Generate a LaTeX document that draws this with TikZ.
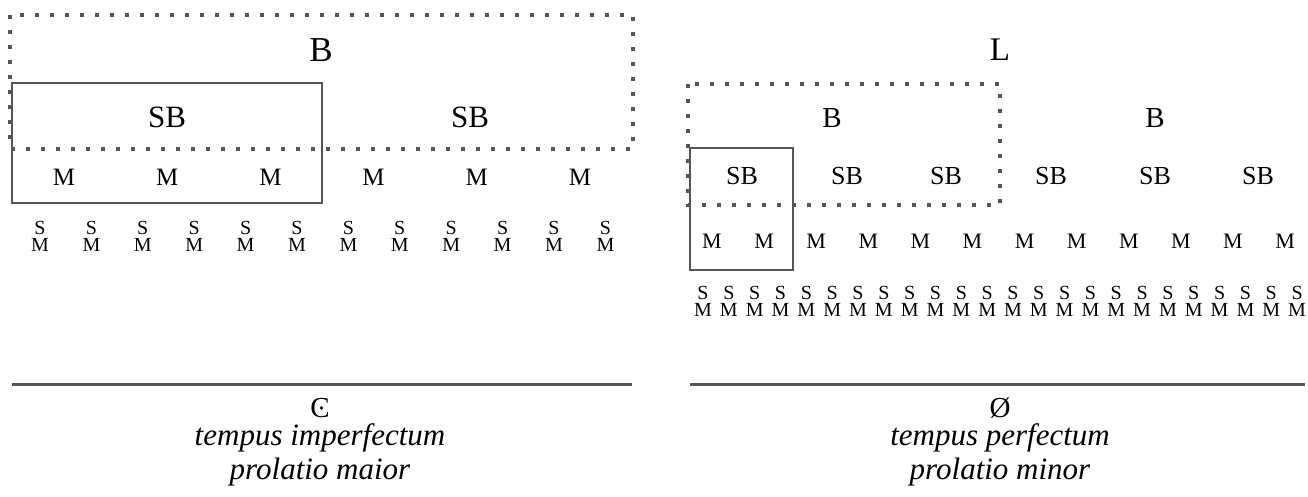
\documentclass[tikz,border=0pt]{standalone}
\usepackage{fontspec}
\setmainfont{Liberation Serif}
\definecolor{rulegray}{HTML}{555555}
\tikzset{
  dotbox/.style={draw=rulegray, line width=4pt, dash pattern=on 4pt off 11pt},
  solidbox/.style={draw=rulegray, line width=2.5pt},
  baseline rule/.style={draw=rulegray, line width=3pt},
  lbl/.style={inner sep=0pt, anchor=center},
  bigB/.style={lbl, font=\fontsize{35}{35}\selectfont},
  lSB/.style={lbl, font=\fontsize{31}{31}\selectfont},
  lM/.style={lbl, font=\fontsize{25}{25}\selectfont},
  rL/.style={lbl, font=\fontsize{33}{33}\selectfont},
  rB/.style={lbl, font=\fontsize{29}{29}\selectfont},
  rSB/.style={lbl, font=\fontsize{26}{26}\selectfont},
  rM/.style={lbl, font=\fontsize{22}{22}\selectfont},
  smin/.style={lbl, align=center, font=\fontsize{20}{17}\selectfont},
  sign/.style={lbl, font=\fontsize{29}{29}\selectfont},
  caption/.style={lbl, font=\fontsize{31}{31}\selectfont\itshape},
}
\begin{document}
\begin{tikzpicture}[x=1pt, y=-1pt]
  \useasboundingbox (0,0) rectangle (1308,497);

  % ---------- left: tempus imperfectum, prolatio maior ----------
  \draw[dotbox] (10,15) rectangle (633,149);
  \draw[solidbox] (12,83) rectangle (322,203);
  \node[bigB] (lB) at (321,50) {B};
  \node[lSB] (lSB1) at (167,117) {SB};
  \node[lSB] (lSB2) at (470,117) {SB};
  \foreach \i in {0,...,5} {
    \node[lM] (lM\i) at ({64+103.2*\i},177) {M};
  }
  \foreach \i in {0,...,11} {
    \node[smin] (lS\i) at ({40+51.4*\i},236) {S\\M};
  }
  \coordinate (lrA) at (12,384);
  \coordinate (lrB) at (632,384);
  \draw[baseline rule] (lrA) -- (lrB);
  \node[sign] (lsign) at (320,408) {C};
  \fill (lsign.center) ++(1.5,0) circle (1.8pt);
  \node[caption] (lcap1) at (320,438) {tempus imperfectum};
  \node[caption] (lcap2) at (320,472) {prolatio maior};

  % ---------- right: tempus perfectum, prolatio minor ----------
  \draw[dotbox] (688,84) rectangle (1000,205);
  \draw[solidbox] (690,148) rectangle (793,270);
  \node[rL] (rL) at (1000,50) {L};
  \node[rB] (rB1) at (832,118) {B};
  \node[rB] (rB2) at (1155,118) {B};
  \foreach \x [count=\k] in {742,847,946,1051,1155,1258} {
    \node[rSB] (rSB\k) at (\x,176) {SB};
  }
  \foreach \i in {0,...,11} {
    \node[rM] (rM\i) at ({712+52.1*\i},241) {M};
  }
  \foreach \i in {0,...,23} {
    \node[smin] (rS\i) at ({703+25.83*\i},301) {S\\M};
  }
  \coordinate (rrA) at (690,384);
  \coordinate (rrB) at (1305,384);
  \draw[baseline rule] (rrA) -- (rrB);
  \node[sign] (rsign) at (1000,408) {Ø};
  \node[caption] (rcap1) at (1000,438) {tempus perfectum};
  \node[caption] (rcap2) at (1000,472) {prolatio minor};
\end{tikzpicture}
\end{document}
